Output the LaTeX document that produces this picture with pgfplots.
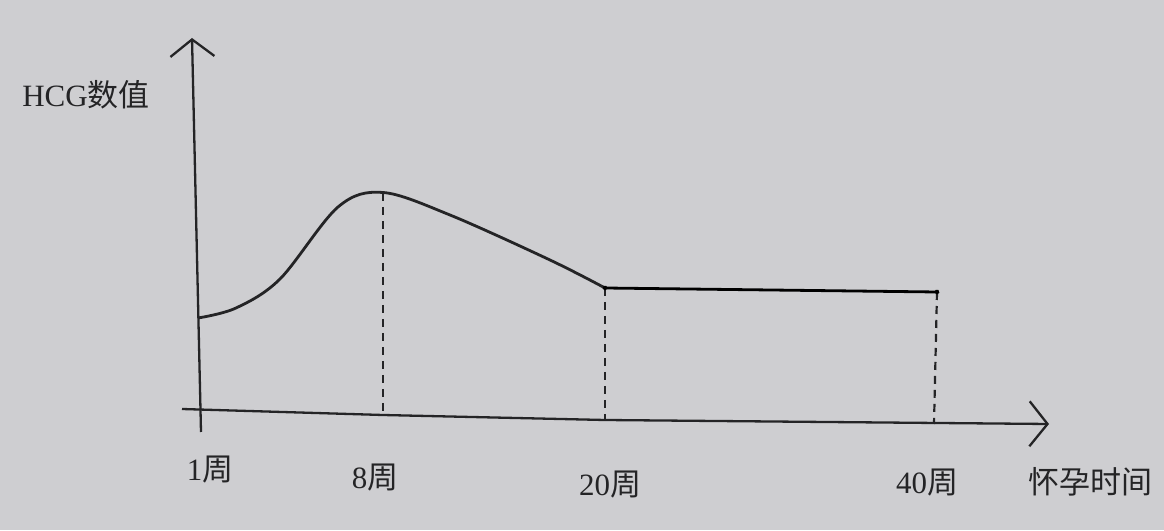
\documentclass[border=0pt]{standalone}
\usepackage{fontspec}
\setmainfont{Liberation Serif}
\newfontfamily\cjk{Noto Sans CJK SC}
\usepackage{pgfplots}
\pgfplotsset{compat=1.18}
\usetikzlibrary{arrows.meta}
\definecolor{paper}{RGB}{206,206,209}
\definecolor{ink}{RGB}{36,36,38}
\tikzset{lbl/.style={font=\fontsize{31}{34}\selectfont, text=ink}}
\begin{document}
\begin{tikzpicture}
\begin{axis}[
	scale only axis,
	width=1164pt, height=530pt,
	xmin=0, xmax=1164, ymin=0, ymax=530,
	axis lines=none,
	clip=false,
	every axis plot/.append style={ink, line width=2.8pt}
]
	\fill[paper] (axis cs:0,0) rectangle (axis cs:1164,530);
	% axes
	\addplot[line width=2.3pt, -{Straight Barb[length=17pt, width=44pt, line width=2.3pt]}]
		coordinates {(201,98) (192,492)};
	\addplot[line width=2.3pt, -{Straight Barb[length=18pt, width=45pt, line width=2.3pt]}]
		coordinates {(182,121) (383,115) (605,110) (1049,106)};
	% HCG curve
	\addplot[smooth, tension=0.55] coordinates {
		(198,212) (236,222) (280,251) (338,323) (383,337.5)
		(450,315) (550,270) (605,242)
	};
	\addplot coordinates {(605,242) (937,238)};
	% drop lines
	\addplot[line width=2.2pt, dash pattern=on 8pt off 6pt] coordinates {(383,337) (383,115)};
	\addplot[line width=2.2pt, dash pattern=on 8pt off 6pt] coordinates {(605,242) (605,110)};
	\addplot[line width=2.2pt, dash pattern=on 8pt off 6pt] coordinates {(937,238) (934,106)};
	% labels
	\node[lbl] at (axis cs:86,435) {HCG{\cjk 数值}};
	\node[lbl] at (axis cs:210,60) {1{\cjk 周}};
	\node[lbl] at (axis cs:375,52) {8{\cjk 周}};
	\node[lbl] at (axis cs:610,45) {20{\cjk 周}};
	\node[lbl] at (axis cs:927,47) {40{\cjk 周}};
	\node[lbl] at (axis cs:1090,48) {{\cjk 怀孕时间}};
\end{axis}
\end{tikzpicture}
\end{document}
